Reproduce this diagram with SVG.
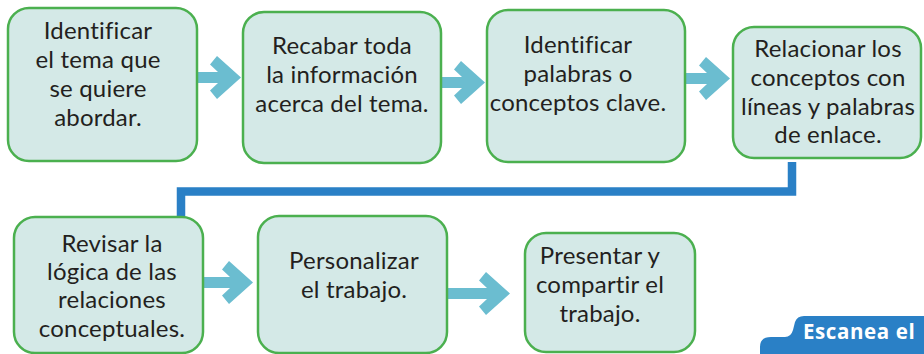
<svg xmlns="http://www.w3.org/2000/svg" width="924" height="354" viewBox="0 0 924 354">
<defs>
<style>
.box{fill:#d4e9e7;stroke:#4bb04f;stroke-width:2.5}
.t{font-family:Lato,"Open Sans",sans-serif;font-size:24px;letter-spacing:0.2px;fill:#231f20;text-anchor:middle}
.arr{fill:#6bbdd0}
.conn{fill:none;stroke:#2a80c6;stroke-width:8.5;stroke-linejoin:miter}
.tab{fill:#2a80c6}
.tabt{font-family:"Open Sans",Lato,sans-serif;font-weight:bold;font-size:20.5px;letter-spacing:0.6px;fill:#ffffff}
</style>
</defs>
<rect width="924" height="354" fill="#ffffff"/>
<g id="connectors">
<path class="conn" d="M792 162 V191.5 H181 V217"/>
<polygon class="arr" transform="translate(197,77.5)" points="0,-5.5 21,-5.5 13,-13 20,-21.5 44,0 20,21.5 13,13 21,5.5 0,5.5"/>
<polygon class="arr" transform="translate(441,82.5)" points="0,-5.5 21,-5.5 13,-13 20,-21.5 44,0 20,21.5 13,13 21,5.5 0,5.5"/>
<polygon class="arr" transform="translate(685,78.5)" points="0,-5.5 22,-5.5 14,-13 21,-21.5 45,0 21,21.5 14,13 22,5.5 0,5.5"/>
<polygon class="arr" transform="translate(203,282.5)" points="0,-5.5 27,-5.5 19,-13 26,-21.5 50,0 26,21.5 19,13 27,5.5 0,5.5"/>
<polygon class="arr" transform="translate(447,293.5)" points="0,-5.5 40,-5.5 32,-13 39,-21.5 63,0 39,21.5 32,13 40,5.5 0,5.5"/>
</g>
<g id="n1">
<rect class="box" x="8" y="8" width="189" height="153" rx="21"/>
<text class="t" x="98" y="39">Identificar</text>
<text class="t" x="98" y="68">el tema que</text>
<text class="t" x="98" y="97">se quiere</text>
<text class="t" x="98" y="126">abordar.</text>
</g>
<g id="n2">
<rect class="box" x="243" y="12" width="198" height="151" rx="21"/>
<text class="t" x="342" y="54">Recabar toda</text>
<text class="t" x="342" y="83">la información</text>
<text class="t" x="342" y="112">acerca del tema.</text>
</g>
<g id="n3">
<rect class="box" x="487" y="10" width="198" height="152" rx="21"/>
<text class="t" x="578" y="53">Identificar</text>
<text class="t" x="578" y="82">palabras o</text>
<text class="t" x="578" y="111">conceptos clave.</text>
</g>
<g id="n4">
<rect class="box" x="733" y="27" width="188" height="131" rx="21"/>
<text class="t" x="828" y="57">Relacionar los</text>
<text class="t" x="828" y="86">conceptos con</text>
<text class="t" x="828" y="115">líneas y palabras</text>
<text class="t" x="828" y="143">de enlace.</text>
</g>
<g id="n5">
<rect class="box" x="14" y="217" width="189" height="136" rx="21"/>
<text class="t" x="112" y="252">Revisar la</text>
<text class="t" x="112" y="280">lógica de las</text>
<text class="t" x="112" y="308">relaciones</text>
<text class="t" x="112" y="337">conceptuales.</text>
</g>
<g id="n6">
<rect class="box" x="258" y="216" width="189" height="137" rx="21"/>
<text class="t" x="354" y="269">Personalizar</text>
<text class="t" x="354" y="298">el trabajo.</text>
</g>
<g id="n7">
<rect class="box" x="525" y="233" width="170" height="119" rx="21"/>
<text class="t" x="600" y="264">Presentar y</text>
<text class="t" x="600" y="293">compartir el</text>
<text class="t" x="600" y="322">trabajo.</text>
</g>
<g id="tab">
<path class="tab" d="M760 354 L760 347 Q760 337 771 337 L785 337 Q791 337 793 330 L795 322 Q797 316 804 316 L924 316 L924 354 Z"/>
<text class="tabt" x="803" y="339">Escanea el</text>
</g>
</svg>
